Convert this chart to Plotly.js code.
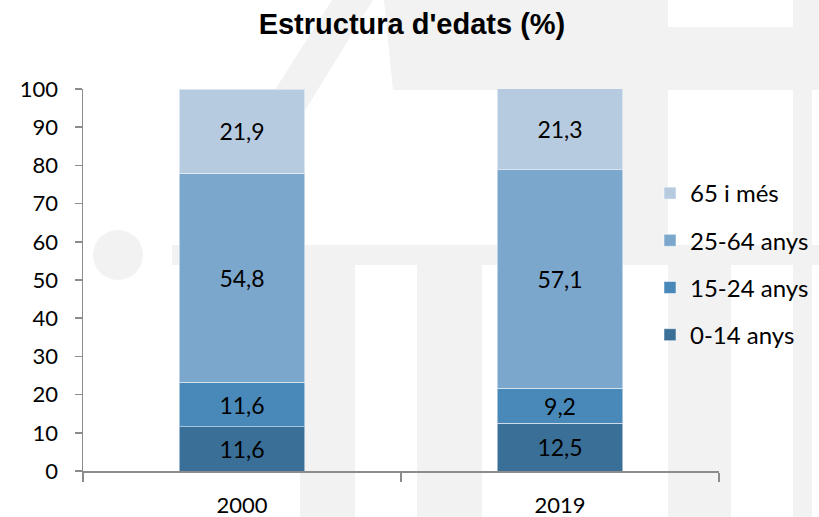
<!DOCTYPE html>
<html><head><meta charset="utf-8">
<script src="https://cdn.plot.ly/plotly-3.0.1.min.js"></script>
<style>body{margin:0;background:#fff}#c{width:819px;height:517px}</style>
</head><body><div id="c"></div>
<script>
const categories = ["2000", "2019"];
const seriesNames = ["0-14 anys", "15-24 anys", "25-64 anys", "65 i més"];
const v0_14 = [11.6, 12.5];
const v15_24 = [11.6, 9.2];
const v25_64 = [54.8, 57.1];
const v65 = [21.9, 21.3];
const colors = ["#3A6F98", "#4889B9", "#7BA7CC", "#B7CBE0"];
const yTicks = [0,10,20,30,40,50,60,70,80,90,100];

const FONT = "Lato, 'Open Sans', sans-serif";
const values = [v0_14, v15_24, v25_64, v65];
const fmt = v => v.toFixed(1).replace(".", ",");
const traces = values.map((vals, i) => ({
  type: "bar",
  name: seriesNames[i],
  legendgroup: "g" + i,
  legendrank: 1000 - i,
  x: categories,
  y: vals,
  marker: {color: colors[i], line: {color: "rgba(255,255,255,0.5)", width: 1}},
  text: vals.map(fmt),
  textposition: "inside",
  insidetextanchor: "middle",
  textfont: {family: FONT, size: 23, color: "#000"},
  hoverinfo: "skip"
}));

// faint background watermark (decoration), pixel geometry -> paper coords
const M = {l: 83, r: 100, t: 89, b: 46};
const PW = 819 - M.l - M.r, PH = 517 - M.t - M.b;
const px = x => (x - M.l) / PW;
const py = y => (517 - M.b - y) / PH;
const G = "#F2F2F2";
function poly(pts, color) {
  return {type: "path", xref: "paper", yref: "paper", layer: "below",
    path: "M" + pts.map(p => px(p[0]).toFixed(4) + "," + py(p[1]).toFixed(4)).join("L") + "Z",
    fillcolor: color || G, line: {width: 0}};
}
function rect(x0, y0, x1, y1, color) { return poly([[x0,y0],[x1,y0],[x1,y1],[x0,y1]], color); }
const shapes = [
  poly([[332,0],[373,0],[250,200],[205,200]]),
  poly([[384,0],[819,0],[819,90],[393,90]]),
  rect(668, 0, 793, 27, "#FFFFFF"),
  rect(600, 90, 668, 245),
  rect(793, 0, 812, 517),
  rect(172, 245, 819, 265),
  rect(300, 265, 355, 517),
  rect(417, 265, 482, 517),
  rect(668, 265, 731, 517),
  {type: "circle", xref: "paper", yref: "paper", layer: "below",
   x0: px(93), x1: px(143), y0: py(280), y1: py(230), fillcolor: G, line: {width: 0}}
];

const layout = {
  width: 819, height: 517,
  margin: {l: M.l, r: M.r, t: M.t, b: M.b, autoexpand: false},
  paper_bgcolor: "#fff", plot_bgcolor: "rgba(0,0,0,0)",
  barmode: "stack",
  bargap: 0.604,
  shapes: shapes,
  title: {text: "Estructura d'edats (%)", x: 0.503, xanchor: "center", y: 0.953, yanchor: "middle",
          font: {family: "'Liberation Sans', Arial, sans-serif", size: 29, color: "#000", weight: "bold"}},
  xaxis: {type: "category", showline: true, linecolor: "#8c8c8c", linewidth: 1.5,
          ticks: "outside", tickson: "boundaries", ticklen: 9, tickcolor: "#8c8c8c", tickwidth: 1.5,
          ticklabelstandoff: 14,
          tickfont: {family: FONT, size: 22, color: "#000"},
          showgrid: false, zeroline: false, fixedrange: true},
  yaxis: {range: [0, 100], tickvals: yTicks, ticktext: yTicks.map(String),
          showline: true, linecolor: "#8c8c8c", linewidth: 1.5,
          ticks: "outside", ticklen: 7, tickcolor: "#8c8c8c", tickwidth: 1.5,
          ticklabelstandoff: 12,
          tickfont: {family: FONT, size: 22, color: "#000"},
          showgrid: false, zeroline: false, fixedrange: true},
  legend: {x: px(650), xanchor: "left", y: py(264), yanchor: "middle", traceorder: "grouped",
           font: {family: FONT, size: 24, color: "#000"},
           itemwidth: 30, tracegroupgap: 13, bgcolor: "rgba(0,0,0,0)"},
  showlegend: true
};
Plotly.newPlot("c", traces, layout, {displayModeBar: false, staticPlot: true});
</script></body></html>
